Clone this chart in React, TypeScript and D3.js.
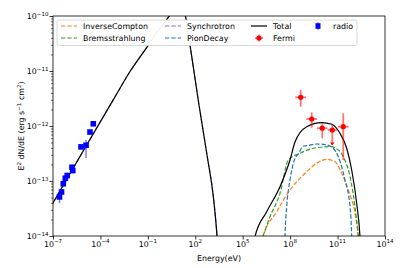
import React, { useEffect, useRef } from 'react';
import * as d3 from 'd3';

// every pair: [log10(Energy / eV), log10(E^2 dN/dE)]
const totalSynch = [
  [-7.3, -13.55], [-7, -13.4], [-5, -12.41], [-3.2, -11.53], [-2.13, -11.01], [-0.99, -10.54],
  [-0.5, -10.33], [0, -10.14], [0.5, -9.95], [0.9, -9.84], [1.15, -9.86], [1.3, -9.93],
  [1.45, -10.1], [1.666, -10.527], [2.235, -11.618], [2.741, -12.527], [3.152, -13.309],
  [3.373, -14.0], [3.43, -14.25],
];
const totalGamma = [
  [5.6, -14.3], [5.777, -14.013], [6.517, -13.558], [7.358, -13.104], [7.99, -12.618],
  [8.307, -12.291], [9.047, -12.013], [9.996, -11.94], [10.628, -11.969], [11.153, -12.133],
  [11.577, -12.405], [11.893, -12.8], [12.209, -13.405], [12.418, -14.013], [12.47, -14.3],
];
const inverseCompton = [
  [6.1, -14.4], [6.302, -14.013], [7.149, -13.558], [7.99, -13.164], [8.832, -12.891],
  [9.679, -12.678], [10.312, -12.605], [10.837, -12.649], [11.261, -12.86], [11.678, -13.164],
  [12.102, -13.587], [12.311, -14.013], [12.37, -14.3],
];
const bremsstrahlung = [
  [6.0, -14.22], [6.264, -14.013], [6.725, -13.649], [7.358, -13.224], [7.883, -12.618],
  [8.623, -12.496], [9.464, -12.405], [10.52, -12.376], [11.046, -12.436], [11.362, -12.558],
  [11.786, -12.922], [12.102, -13.467], [12.311, -14.013], [12.4, -14.25],
];
const pionDecay = [
  [7.64, -14.6], [7.674, -14.013], [7.782, -13.467], [7.99, -12.982], [8.307, -12.587],
  [8.516, -12.509], [8.832, -12.364], [9.047, -12.358], [9.679, -12.327], [10.312, -12.345],
  [10.729, -12.405], [11.046, -12.558], [11.469, -12.982], [11.786, -13.467], [11.893, -14.013],
  [11.93, -14.6],
];

// radio: log10 E, log10 flux, lower, upper
const radioE = [-6.59, -6.46, -6.35, -6.22, -6.1, -5.8, -5.75, -5.23, -4.91, -4.66, -4.45];
const radioF = [-13.29, -13.2, -13.05, -12.95, -12.9, -12.75, -12.81, -12.38, -12.35, -12.11, -11.96];
const radioLo = [-13.4, -13.25, -13.1, -13.0, -12.95, -12.8, -12.86, -12.42, -12.58, -12.15, -12.0];
const radioHi = [-13.22, -13.15, -13.0, -12.9, -12.85, -12.7, -12.76, -12.34, -12.25, -12.07, -11.92];

// fermi: log10 E, log10 flux, lower, upper, bin half width (decades)
const fermiE = [8.667, 9.363, 10.03, 10.666, 11.36];
const fermiF = [-11.478, -11.873, -12.04, -12.073, -12.013];
const fermiLo = [-11.649, -12.03, -12.224, -12.345, -12.62];
const fermiHi = [-11.345, -11.751, -11.95, -11.99, -11.77];
const fermiHalf = [0.34, 0.34, 0.34, 0.3, 0.34];

const xTicks = [-7, -4, -1, 2, 5, 8, 11, 14];
const yTicks = [-14, -13, -12, -11, -10];

const FONT = 'DejaVu Sans, sans-serif';
const FS = 7.9;
const C = { ic: '#ff7f0e', br: '#2ca02c', sy: '#9467bd', pi: '#1f77b4' };

export default function App() {
  const ref = useRef<SVGSVGElement>(null);

  useEffect(() => {
    const svg = d3.select(ref.current);
    svg.selectAll('*').remove();
    const L = 53, R = 385, T = 16, B = 236;
    const x = d3.scaleLog().domain([1e-7, 1e14]).range([L, R]);
    const y = d3.scaleLog().domain([1e-14, 1e-10]).range([B, T]);
    const px = (v: number) => x(Math.pow(10, v));
    const py = (v: number) => y(Math.pow(10, v));

    svg.append('defs').append('clipPath').attr('id', 'plot')
      .append('rect').attr('x', L).attr('y', T).attr('width', R - L).attr('height', B - T);

    // minor y ticks
    const yMinor: number[] = [];
    for (let d = -14; d < -10; d++) for (let s = 2; s < 10; s++) yMinor.push(s * Math.pow(10, d));
    svg.append('g').attr('transform', `translate(${L},0)`)
      .call(d3.axisLeft(y).tickValues(yMinor).tickSize(2).tickSizeOuter(0).tickFormat(() => ''))
      .call(g => g.select('.domain').remove())
      .call(g => g.selectAll('line').attr('stroke-width', 0.6));
    svg.append('g').attr('transform', `translate(${L},0)`)
      .call(d3.axisLeft(y).tickValues(yTicks.map(v => Math.pow(10, v))).tickSize(3.5).tickSizeOuter(0).tickFormat(() => ''))
      .call(g => g.select('.domain').remove())
      .call(g => g.selectAll('line').attr('stroke-width', 0.8));
    svg.append('g').attr('transform', `translate(0,${B})`)
      .call(d3.axisBottom(x).tickValues(xTicks.map(v => Math.pow(10, v))).tickSize(3.5).tickSizeOuter(0).tickFormat(() => ''))
      .call(g => g.select('.domain').remove())
      .call(g => g.selectAll('line').attr('stroke-width', 0.8));

    const sup = (t: d3.Selection<SVGTextElement, unknown, null, undefined>, base: string, exp: number) => {
      t.append('tspan').text(base);
      t.append('tspan').attr('dy', -3.6).attr('font-size', FS * 0.7).text('\u2212'.repeat(exp < 0 ? 1 : 0) + Math.abs(exp));
    };
    xTicks.forEach(v => {
      const t = svg.append('text').attr('x', px(v)).attr('y', 247).attr('text-anchor', 'middle')
        .attr('font-family', FONT).attr('font-size', FS);
      sup(t as any, '10', v);
    });
    yTicks.forEach(v => {
      const t = svg.append('text').attr('x', 48.5).attr('y', py(v) + 3.4).attr('text-anchor', 'end')
        .attr('font-family', FONT).attr('font-size', FS);
      sup(t as any, '10', v);
    });

    svg.append('text').attr('x', (L + R) / 2).attr('y', 261).attr('text-anchor', 'middle')
      .attr('font-family', FONT).attr('font-size', FS).text('Energy(eV)');
    const yl = svg.append('text').attr('transform', `translate(24,${(T + B) / 2}) rotate(-90)`)
      .attr('text-anchor', 'middle').attr('font-family', FONT).attr('font-size', FS);
    yl.append('tspan').text('E');
    yl.append('tspan').attr('dy', -3.3).attr('font-size', FS * 0.7).text('2');
    yl.append('tspan').attr('dy', 3.3).text(' dN/dE (erg s');
    yl.append('tspan').attr('dy', -3.3).attr('font-size', FS * 0.7).text('\u22121');
    yl.append('tspan').attr('dy', 3.3).text(' cm');
    yl.append('tspan').attr('dy', -3.3).attr('font-size', FS * 0.7).text('2');
    yl.append('tspan').attr('dy', 3.3).text(')');

    const plot = svg.append('g').attr('clip-path', 'url(#plot)');
    const line = d3.line<number[]>().x(d => px(d[0])).y(d => py(d[1])).curve(d3.curveMonotoneX);
    const dash = '4.4,1.9';
    const curves: [number[][], string, string | null][] = [
      [inverseCompton, C.ic, dash],
      [bremsstrahlung, C.br, dash],
      [totalSynch, C.sy, dash],
      [pionDecay, C.pi, dash],
      [totalSynch, '#000', null],
      [totalGamma, '#000', null],
    ];
    curves.forEach(([data, col, da]) => {
      plot.append('path').attr('d', line(data) as string).attr('fill', 'none')
        .attr('stroke', col).attr('stroke-width', 1.2).attr('stroke-dasharray', da);
    });

    // fermi
    fermiE.forEach((e, i) => {
      const g = plot.append('g');
      g.append('line').attr('x1', px(e)).attr('x2', px(e)).attr('y1', py(fermiLo[i])).attr('y2', py(fermiHi[i]))
        .attr('stroke', 'red').attr('stroke-opacity', 0.55).attr('stroke-width', 1.8);
      g.append('line').attr('x1', px(e - fermiHalf[i])).attr('x2', px(e + fermiHalf[i])).attr('y1', py(fermiF[i])).attr('y2', py(fermiF[i]))
        .attr('stroke', 'red').attr('stroke-opacity', 0.55).attr('stroke-width', 1.8);
      g.append('circle').attr('cx', px(e)).attr('cy', py(fermiF[i])).attr('r', 2.6).attr('fill', 'red');
      if (i === 3) {
        const bx = px(e), by = py(fermiLo[i]);
        g.append('path').attr('d', `M${bx - 2.2},${by - 2.5}L${bx + 2.2},${by - 2.5}L${bx},${by + 0.5}Z`).attr('fill', 'red');
      }
    });

    // radio
    radioE.forEach((e, i) => {
      plot.append('line').attr('x1', px(e)).attr('x2', px(e)).attr('y1', py(radioLo[i])).attr('y2', py(radioHi[i]))
        .attr('stroke', 'blue').attr('stroke-opacity', 0.5).attr('stroke-width', 1.5);
    });
    radioE.forEach((e, i) => {
      plot.append('rect').attr('x', px(e) - 2.8).attr('y', py(radioF[i]) - 2.8).attr('width', 5.6).attr('height', 5.6)
        .attr('fill', 'blue');
    });

    svg.append('rect').attr('x', L).attr('y', T).attr('width', R - L).attr('height', B - T)
      .attr('fill', 'none').attr('stroke', '#000').attr('stroke-width', 0.8);

    // legend
    const lg = svg.append('g');
    lg.append('rect').attr('x', 57).attr('y', 20).attr('width', 300).attr('height', 25.5).attr('rx', 2)
      .attr('fill', '#fff').attr('fill-opacity', 0.95).attr('stroke', '#d0d0d0').attr('stroke-width', 0.8);
    const items: [string, number, number, string, string][] = [
      ['InverseCompton', 61, 26, C.ic, 'dash'],
      ['Bremsstrahlung', 61, 38, C.br, 'dash'],
      ['Synchrotron', 165, 26, C.sy, 'dash'],
      ['PionDecay', 165, 38, C.pi, 'dash'],
      ['Total', 251, 26, '#000', 'solid'],
      ['Fermi', 251, 38, 'red', 'fermi'],
      ['radio', 310, 26, 'blue', 'radio'],
    ];
    items.forEach(([name, hx, hy, col, kind]) => {
      if (kind === 'dash' || kind === 'solid') {
        lg.append('line').attr('x1', hx).attr('x2', hx + 16).attr('y1', hy).attr('y2', hy)
          .attr('stroke', col).attr('stroke-width', 1.2).attr('stroke-dasharray', kind === 'dash' ? dash : null);
      } else if (kind === 'fermi') {
        const cx = hx + 8;
        lg.append('line').attr('x1', cx).attr('x2', cx).attr('y1', hy - 3.5).attr('y2', hy + 3.5)
          .attr('stroke', 'red').attr('stroke-opacity', 0.55).attr('stroke-width', 1.8);
        lg.append('line').attr('x1', cx - 4).attr('x2', cx + 4).attr('y1', hy).attr('y2', hy)
          .attr('stroke', 'red').attr('stroke-opacity', 0.55).attr('stroke-width', 1.8);
        lg.append('circle').attr('cx', cx).attr('cy', hy).attr('r', 2.6).attr('fill', 'red');
      } else {
        const cx = hx + 8;
        lg.append('line').attr('x1', cx).attr('x2', cx).attr('y1', hy - 3.8).attr('y2', hy + 3.8)
          .attr('stroke', 'blue').attr('stroke-opacity', 0.5).attr('stroke-width', 1.5);
        lg.append('rect').attr('x', cx - 2.5).attr('y', hy - 2.8).attr('width', 5).attr('height', 5.6).attr('fill', 'blue');
      }
      lg.append('text').attr('x', kind === 'radio' ? hx + 23 : hx + 22).attr('y', hy + 2.8)
        .attr('font-family', FONT).attr('font-size', FS).text(name);
    });
  }, []);

  return <svg ref={ref} width={415} height={268} style={{ position: 'absolute', left: 0, top: 0, background: '#fff' }} />;
}
